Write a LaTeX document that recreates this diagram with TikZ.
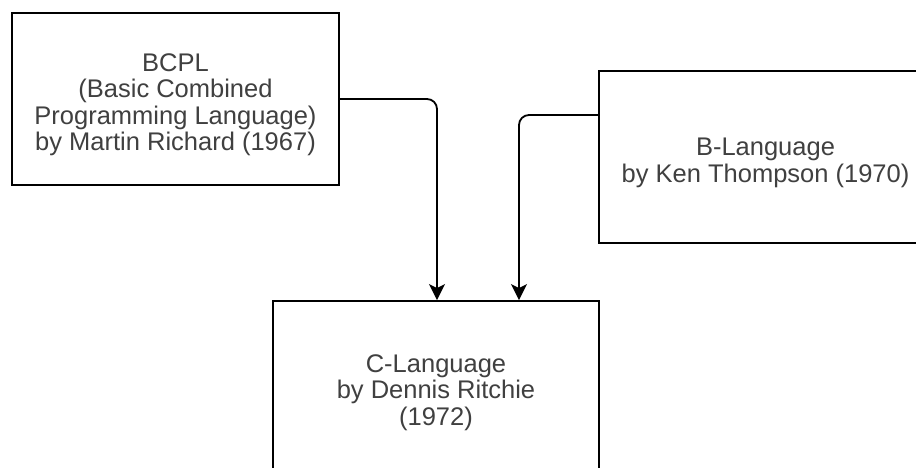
\documentclass[tikz,border=0pt]{standalone}
\usepackage{fontspec}
\setmainfont{Liberation Sans}
\usetikzlibrary{arrows.meta}
\newcommand{\toplift}{\rule{0pt}{29pt}}

\begin{document}
\begin{tikzpicture}[x=1pt, y=-1pt,
    langbox/.style={draw=black, line width=1.8pt, fill=white, minimum width=327pt, minimum height=172pt,
      align=center, text=black!75, font=\fontsize{25.5}{26.5}\selectfont},
    flow/.style={line width=1.8pt, rounded corners=10pt, -{Stealth[length=16pt, width=16pt, inset=4pt]}}]
            \useasboundingbox (0,0) rectangle (916,468);
            \clip (0,0) rectangle (916,468);

            % the three languages
            \node[langbox] (bcpl) at (175.5,99) {\toplift BCPL\\(Basic Combined\\Programming Language)\\by Martin Richard (1967)};
            \node[langbox, minimum width=333pt] (blang) at (765.5,157) {\toplift B-Language\\by Ken Thompson (1970)};
            \node[langbox, minimum width=326pt] (clang) at (436,387) {\toplift C-Language\\by Dennis Ritchie\\(1972)};

            % where the B arrow leaves its box
            \coordinate (bout) at (599,115);

            \draw[flow] (bcpl.east) -| ([xshift=1pt]clang.north);
            \draw[flow] (bout) -| ([xshift=83pt]clang.north);
\end{tikzpicture}
\end{document}
